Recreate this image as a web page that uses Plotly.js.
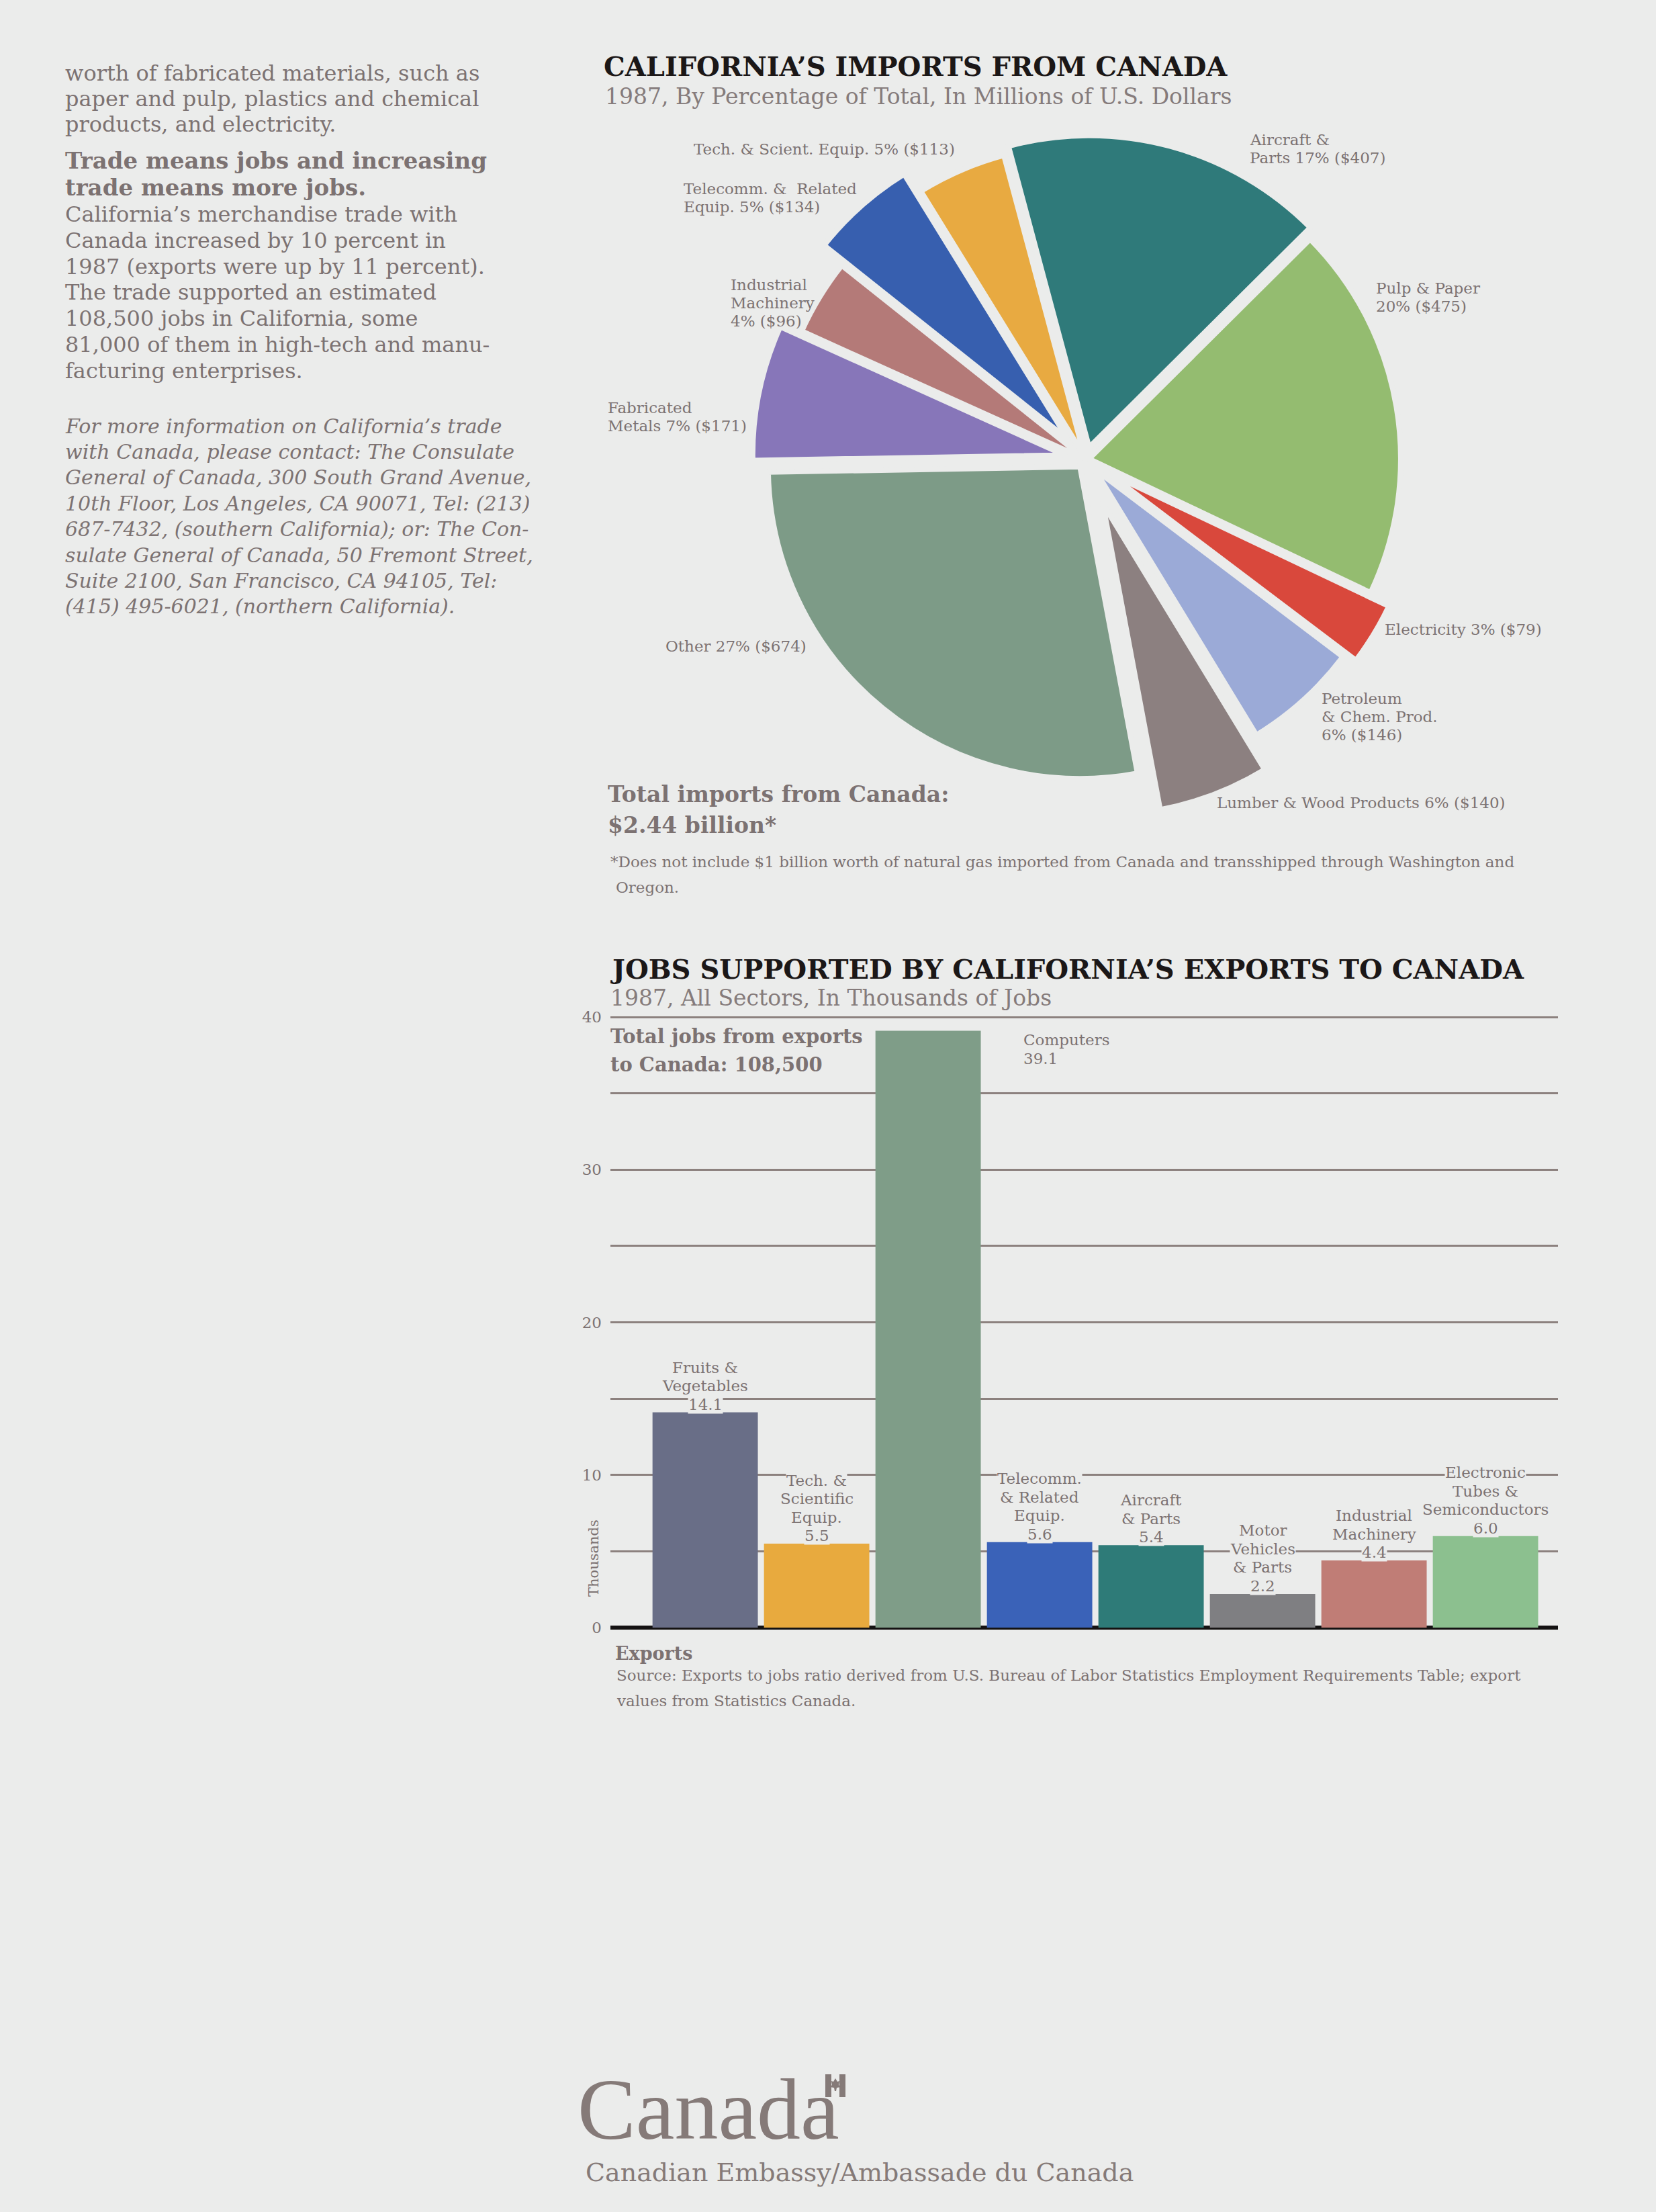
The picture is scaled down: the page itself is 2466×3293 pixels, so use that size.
<!DOCTYPE html>
<html>
<head>
<meta charset="utf-8">
<script src="https://cdn.plot.ly/plotly-3.0.1.min.js"></script>
<style>
  html, body { margin: 0; padding: 0; background: #ebeceb; }
  #chart { width: 2466px; height: 3293px; }
</style>
</head>
<body>
<div id="chart"></div>
<script>
// ---------------- DATA ----------------
// Pie: California's imports from Canada, 1987 (millions of US dollars), clockwise from top
const importCategories = ["Aircraft & Parts", "Pulp & Paper", "Electricity", "Petroleum & Chem. Prod.",
  "Lumber & Wood Products", "Other", "Fabricated Metals", "Industrial Machinery",
  "Telecomm. & Related Equip.", "Tech. & Scient. Equip."];
const importValues = [407, 475, 79, 146, 140, 674, 171, 96, 134, 113];
const importShares = [17, 20, 3, 6, 6, 27, 7, 4, 5, 5];

// Bars: jobs supported by California's exports to Canada (thousands)
const exportCategories = ["Fruits & Vegetables", "Tech. & Scientific Equip.", "Computers",
  "Telecomm. & Related Equip.", "Aircraft & Parts", "Motor Vehicles & Parts",
  "Industrial Machinery", "Electronic Tubes & Semiconductors"];
const exportJobs = [14.1, 5.5, 39.1, 5.6, 5.4, 2.2, 4.4, 6.0];
const jobTicks = [0, 10, 20, 30, 40];

// ---------------- STYLE / LAYOUT ----------------
const W = 2466, H = 3293;
const BG = '#ebeceb';
const GREY = '#7c7272';
const INK = '#1b1717';
const SERIF = 'DejaVu Serif, Liberation Serif, serif';

const pieColors = ['#2f7a7a', '#94bc70', '#d9483c', '#9baad7', '#8c8080',
  '#7d9b87', '#8776b9', '#b47a78', '#375faf', '#e8aa41'];
const piePull = [0.04, 0.01, 0.08, 0.04, 0.15, 0.03, 0.07, 0.0, 0.086, 0.01];
// label line-breaks ("|" = new line) and placement (pixel coords of first line centre, anchor)
const pieLabelNames = ["Aircraft &|Parts", "Pulp & Paper|", "Electricity", "Petroleum|& Chem. Prod.|",
  "Lumber & Wood Products", "Other", "Fabricated|Metals", "Industrial|Machinery|",
  "Telecomm. &  Related|Equip. ", "Tech. & Scient. Equip."];
const pieLabelPos = [[1859, 208, 'left'], [2047, 429, 'left'], [2060, 937, 'left'], [1966, 1040, 'left'],
  [1810, 1195, 'left'], [1203, 962, 'right'], [903, 607, 'left'], [1086, 424, 'left'],
  [1016, 281, 'left'], [1031, 222, 'left']];

const barColors = ['#696e87', '#e8aa3e', '#7f9d88', '#3a62b8', '#2e7b78', '#7f7f82', '#c07d76', '#8cc08f'];
const barLabelNames = ["Fruits &|Vegetables", "Tech. &|Scientific|Equip.", "Computers",
  "Telecomm.|& Related|Equip.", "Aircraft|& Parts", "Motor|Vehicles|& Parts",
  "Industrial|Machinery", "Electronic|Tubes &|Semiconductors"];

function px(x) { return x / W; }
function py(y) { return 1 - y / H; }
function font(size, color, extra) { return Object.assign({ family: SERIF, size: size, color: color || GREY }, extra || {}); }
function note(text, x, y, f, o) {
  return Object.assign({ text: text, x: px(x), y: py(y), xref: 'paper', yref: 'paper', showarrow: false,
    xanchor: 'left', yanchor: 'middle', align: 'left', font: f }, o || {});
}
function lines(arr, x, y0, dy, f, o) { return arr.map((t, i) => note(t, x, y0 + i * dy, f, o)); }

const annotations = [];

// ---- left text column ----
annotations.push(...lines([
  "worth of fabricated materials, such as",
  "paper and pulp, plastics and chemical",
  "products, and electricity."], 95, 109, 38, font(32)));
annotations.push(...lines([
  "Trade means jobs and increasing",
  "trade means more jobs."], 95, 239, 40, font(34, GREY, { weight: 'bold' })));
annotations.push(...lines([
  "California’s merchandise trade with",
  "Canada increased by 10 percent in",
  "1987 (exports were up by 11 percent).",
  "The trade supported an estimated",
  "108,500 jobs in California, some",
  "81,000 of them in high-tech and manu-",
  "facturing enterprises."], 95, 319, 38.8, font(32)));
annotations.push(...lines([
  "For more information on California’s trade",
  "with Canada, please contact: The Consulate",
  "General of Canada, 300 South Grand Avenue,",
  "10th Floor, Los Angeles, CA 90071, Tel: (213)",
  "687-7432, (southern California); or: The Con-",
  "sulate General of Canada, 50 Fremont Street,",
  "Suite 2100, San Francisco, CA 94105, Tel:",
  "(415) 495-6021, (northern California)."], 95, 634, 38.4, font(30, GREY, { style: 'italic' })));

// ---- pie chart texts ----
annotations.push(note("1987, By Percentage of Total, In Millions of U.S. Dollars", 899, 143, font(33, '#857b7b')));
importCategories.forEach((c, i) => {
  const name = pieLabelNames[i];
  const sep = name.endsWith('|') || name.endsWith(' ') ? '' : ' ';
  const txt = name + sep + importShares[i] + '% ($' + importValues[i] + ')';
  const p = pieLabelPos[i];
  annotations.push(...lines(txt.split('|'), p[0], p[1], 27, font(23), { xanchor: p[2], align: p[2] }));
});
annotations.push(note("Total imports from Canada:", 903, 1182, font(33, GREY, { weight: 'bold' })));
annotations.push(note("$2.44 billion*", 903, 1228, font(33, GREY, { weight: 'bold' })));
annotations.push(note("*Does not include $1 billion worth of natural gas imported from Canada and transshipped through Washington and", 907, 1283, font(23)));
annotations.push(note("Oregon.", 915, 1321, font(23)));

// ---- bar chart texts ----
annotations.push(note("JOBS SUPPORTED BY CALIFORNIA’S EXPORTS TO CANADA", 907, 1442, font(40, INK, { weight: 'bold' })));
annotations.push(note("1987, All Sectors, In Thousands of Jobs", 907, 1485, font(33, '#857b7b')));
annotations.push(note("Total jobs from exports", 907, 1543, font(29, GREY, { weight: 'bold' })));
annotations.push(note("to Canada: 108,500", 907, 1585, font(29, GREY, { weight: 'bold' })));
annotations.push(note("Thousands", 884, 2320, font(21), { textangle: -90, xanchor: 'center' }));
annotations.push(note("Exports", 914, 2461, font(27, GREY, { weight: 'bold' })));
annotations.push(note("Source: Exports to jobs ratio derived from U.S. Bureau of Labor Statistics Employment Requirements Table; export", 916, 2494, font(23)));
annotations.push(note("values from Statistics Canada.", 916, 2532, font(23)));

exportCategories.forEach((c, i) => {
  const parts = barLabelNames[i].split('|').concat([exportJobs[i].toFixed(1)]);
  const n = parts.length;
  parts.forEach((t, j) => {
    if (c === 'Computers') {
      annotations.push({ text: t, x: c, y: exportJobs[i], xref: 'x', yref: 'y', showarrow: false,
        xanchor: 'left', yanchor: 'middle', align: 'left', xshift: 140, yshift: -14 - j * 27.5, font: font(23) });
    } else {
      annotations.push({ text: t, x: c, y: exportJobs[i], xref: 'x', yref: 'y', showarrow: false,
        xanchor: 'center', yanchor: 'middle', align: 'center', yshift: 12 + (n - 1 - j) * 27.5,
        bgcolor: BG, borderpad: 0, font: font(23) });
    }
  });
});

// ---- footer ----
annotations.push(note("Canada", 858, 3140, { family: 'Liberation Serif, DejaVu Serif, serif', size: 130, color: '#857a78' }));
annotations.push(note("Canadian Embassy/Ambassade du Canada", 870, 3234, font(38, '#857a78')));

function path(pts) { return 'M' + pts.map(p => px(p[0]) + ',' + py(p[1])).join(' L') + ' Z'; }
const shapes = [
  { type: 'rect', xref: 'paper', yref: 'paper', x0: px(1229), x1: px(1238), y0: py(3122), y1: py(3088),
    fillcolor: '#857a78', line: { width: 0 } },
  { type: 'rect', xref: 'paper', yref: 'paper', x0: px(1250), x1: px(1259), y0: py(3122), y1: py(3088),
    fillcolor: '#857a78', line: { width: 0 } },
  { type: 'path', xref: 'paper', yref: 'paper', fillcolor: '#857a78', line: { width: 0 },
    path: path([[1244, 3094], [1247, 3099], [1250, 3098], [1249, 3104], [1252, 3107], [1246, 3108], [1245, 3113],
      [1243, 3113], [1242, 3108], [1236, 3107], [1239, 3104], [1238, 3098], [1241, 3099]]) }
];

// ---------------- TRACES ----------------
const pieTrace = {
  type: 'pie',
  labels: importCategories,
  values: importValues,
  sort: false,
  direction: 'clockwise',
  rotation: -15,
  pull: piePull,
  textinfo: 'none',
  hoverinfo: 'label+value+percent',
  showlegend: false,
  marker: { colors: pieColors, line: { color: BG, width: 8 } },
  domain: { x: [px(1083), px(2151)], y: [py(1218), py(150)] }
};

const barTrace = {
  type: 'bar',
  x: exportCategories,
  y: exportJobs,
  marker: { color: barColors, line: { width: 0 } },
  showlegend: false,
  hoverinfo: 'x+y'
};

const layout = {
  width: W, height: H,
  margin: { l: 0, r: 0, t: 0, b: 0 },
  paper_bgcolor: BG,
  plot_bgcolor: 'rgba(0,0,0,0)',
  showlegend: false,
  bargap: 0.055,
  title: {
    text: 'CALIFORNIA’S IMPORTS FROM CANADA',
    x: px(899), xref: 'paper', xanchor: 'left',
    y: py(99), yref: 'paper', yanchor: 'middle',
    font: { family: SERIF, size: 40, color: INK, weight: 'bold' }
  },
  xaxis: {
    type: 'category', domain: [px(909), px(2320)], range: [-0.85, 7.65],
    showticklabels: false, showgrid: false, zeroline: false, showline: false, ticks: ''
  },
  yaxis: {
    domain: [py(2429.8), py(1507.2)], range: [-0.3, 40.3],
    tickmode: 'array', tickvals: jobTicks, ticktext: jobTicks.map(String),
    ticks: '', ticklabelstandoff: 12,
    tickfont: { family: SERIF, size: 23, color: GREY },
    showgrid: true, gridcolor: '#8c817e', gridwidth: 3,
    minor: { tickmode: 'linear', tick0: 0, dtick: 5, showgrid: true, gridcolor: '#8c817e', gridwidth: 3, ticks: '' },
    zeroline: true, zerolinecolor: '#141212', zerolinewidth: 6,
    showline: false
  },
  annotations: annotations,
  shapes: shapes
};

Plotly.newPlot('chart', [pieTrace, barTrace], layout, { staticPlot: true, displayModeBar: false });
</script>
</body>
</html>
